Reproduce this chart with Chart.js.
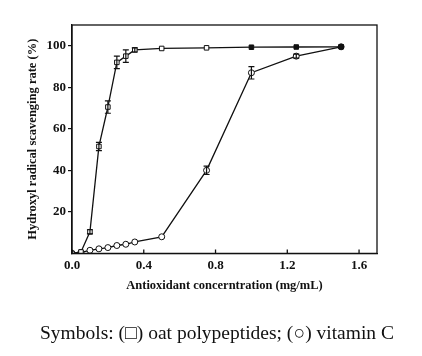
<!DOCTYPE html>
<html><head><meta charset="utf-8">
<script src="https://cdn.jsdelivr.net/npm/chart.js@4"></script>
<style>
html,body{margin:0;padding:0;background:#fff;}
#wrap{position:relative;width:422px;height:356px;}
#cap{position:absolute;left:6px;width:422px;top:322px;line-height:22px;text-align:center;font-family:"Liberation Serif",serif;font-size:19.5px;color:#111;}
</style></head>
<body>
<div id="wrap"><canvas id="c" width="422" height="356"></canvas>
<div id="cap">Symbols: (□) oat polypeptides; (○) vitamin C</div></div>
<script>
const concA = [0, 0.05, 0.1, 0.15, 0.2, 0.25, 0.3, 0.35, 0.5, 0.75, 1.0, 1.25, 1.5];
const oatValues = [0, 0.7, 10.4, 51.5, 70.5, 92, 95, 98, 98.7, 99, 99.3, 99.4, 99.5];
const oatErrors = [0, 0, 1, 2, 3, 3, 3, 1, 0.5, 0.5, 0.5, 0.5, 0.5];
const vcValues = [0, 0.5, 1.5, 2.2, 2.8, 3.8, 4.4, 5.5, 8, 40, 87, 95, 99.5];
const vcErrors = [0, 0, 0, 0, 0, 0, 0, 0, 0, 2, 3, 1, 0.5];
const xTicks = [0, 0.4, 0.8, 1.2, 1.6];
const yTicks = [20, 40, 60, 80, 100];

const FONT = "'Liberation Serif', 'Times New Roman', serif";
const toXY = (xs, ys) => xs.map((x, i) => ({x: x, y: ys[i]}));

const errorPlugin = {
  id: 'errs',
  afterDatasetsDraw(chart) {
    const ctx = chart.ctx, xs = chart.scales.x, ys = chart.scales.y;
    const sets = [oatErrors, vcErrors];
    ctx.save();
    ctx.strokeStyle = '#111'; ctx.lineWidth = 1.2;
    chart.data.datasets.forEach((ds, di) => {
      ds.data.forEach((p, i) => {
        const e = sets[di][i];
        if (!e || e < 1) return;
        const px = xs.getPixelForValue(p.x);
        const y1 = ys.getPixelForValue(p.y + e), y2 = ys.getPixelForValue(p.y - e);
        ctx.beginPath();
        ctx.moveTo(px, y1); ctx.lineTo(px, y2);
        ctx.moveTo(px - 3, y1); ctx.lineTo(px + 3, y1);
        ctx.moveTo(px - 3, y2); ctx.lineTo(px + 3, y2);
        ctx.stroke();
      });
    });
    ctx.restore();
  }
};

const framePlugin = {
  id: 'frame',
  afterDraw(chart) {
    const ctx = chart.ctx, a = chart.chartArea, xs = chart.scales.x;
    ctx.save();
    ctx.strokeStyle = '#111'; ctx.lineWidth = 1.3;
    ctx.strokeRect(a.left, a.top, a.right - a.left, a.bottom - a.top);
    ctx.beginPath();
    xTicks.forEach(v => {
      const px = xs.getPixelForValue(v);
      ctx.moveTo(px, a.bottom); ctx.lineTo(px, a.bottom - 4);
    });
    ctx.stroke();
    ctx.restore();
  }
};

new Chart(document.getElementById('c'), {
  type: 'scatter',
  data: {
    datasets: [
      {
        label: 'oat polypeptides',
        data: toXY(concA, oatValues),
        showLine: true,
        borderColor: '#111', borderWidth: 1.3,
        pointStyle: 'rect', pointRadius: 3.2,
        pointBackgroundColor: concA.map(x => x >= 1 ? '#111' : '#fff'),
        pointBorderColor: '#111', pointBorderWidth: 1
      },
      {
        label: 'vitamin C',
        data: toXY(concA, vcValues),
        showLine: true,
        borderColor: '#111', borderWidth: 1.3,
        pointStyle: 'circle', pointRadius: 3,
        pointBackgroundColor: concA.map(x => x >= 1.5 ? '#111' : '#fff'),
        pointBorderColor: '#111', pointBorderWidth: 1
      }
    ]
  },
  options: {
    responsive: false,
    animation: false,
    layout: {padding: {left: 0, right: 45, top: 25, bottom: 63}},
    plugins: {legend: {display: false}, tooltip: {enabled: false}},
    scales: {
      x: {
        type: 'linear', min: 0, max: 1.7,
        grid: {display: false, drawTicks: false},
        border: {display: true, color: '#111', width: 1.3},
        afterBuildTicks: s => { s.ticks = xTicks.map(v => ({value: v})); },
        ticks: {
          padding: 4, color: '#111',
          font: {family: FONT, size: 13, weight: 'bold'},
          callback: v => Number(v).toFixed(1)
        },
        title: {
          display: true, text: 'Antioxidant concerntration (mg/mL)', color: '#111',
          font: {family: FONT, size: 12.5, weight: 'bold'}, padding: {top: 1, bottom: 0}
        }
      },
      y: {
        type: 'linear', min: 0, max: 110,
        afterFit: s => { s.width = 72; },
        grid: {display: true, drawOnChartArea: false, drawTicks: true, tickLength: 4, color: '#111', lineWidth: 1.2},
        border: {display: true, color: '#111', width: 1.3},
        afterBuildTicks: s => { s.ticks = yTicks.map(v => ({value: v})); },
        ticks: {
          padding: 2, color: '#111',
          font: {family: FONT, size: 13, weight: 'bold'}
        },
        title: {
          display: true, text: 'Hydroxyl radical scavenging rate (%)', color: '#111',
          font: {family: FONT, size: 12.5, weight: 'bold'}, padding: {top: 25, bottom: 0}
        }
      }
    }
  },
  plugins: [errorPlugin, framePlugin]
});
</script>
</body></html>
